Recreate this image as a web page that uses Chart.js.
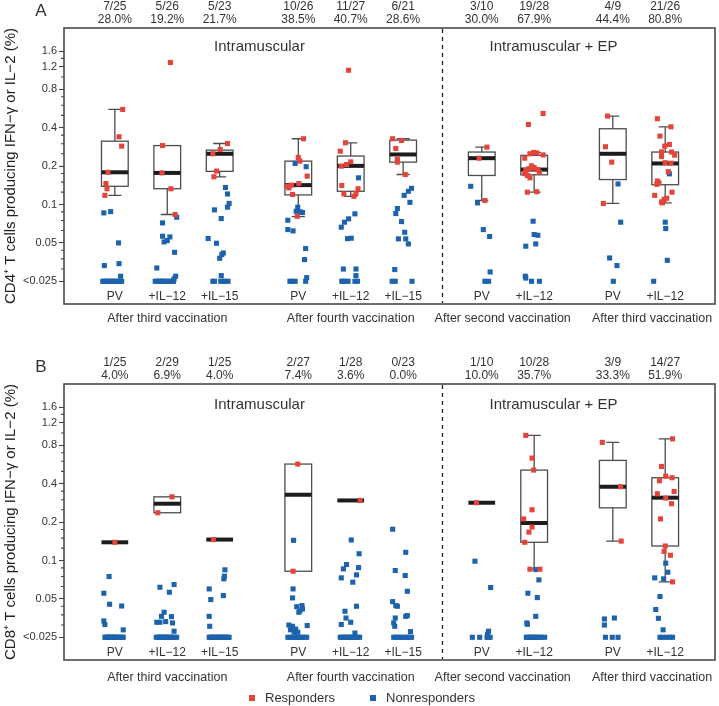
<!DOCTYPE html>
<html>
<head>
<meta charset="utf-8">
<script src="https://cdn.jsdelivr.net/npm/chart.js@4.4.0/dist/chart.umd.min.js"></script>
<style>
  html, body { margin: 0; padding: 0; background: #fff; }
  #wrap { position: relative; width: 719px; height: 706px; }
  .panel { position: absolute; left: 0; width: 719px; }
</style>
</head>
<body>
<div id="wrap">
  <div class="panel" style="top:0;height:355px"><canvas id="chartA"></canvas></div>
  <div class="panel" style="top:356px;height:350px"><canvas id="chartB"></canvas></div>
</div>
<script>
// category positions on the x axis (units), labels
const groupX = [1, 2, 3, 4.5, 5.5, 6.5, 8, 9, 10.5, 11.5];
const treatments = ['PV', '+IL\u221212', '+IL\u221215', 'PV', '+IL\u221212', '+IL\u221215', 'PV', '+IL\u221212', 'PV', '+IL\u221212'];
const periods = ['After third vaccination', 'After fourth vaccination', 'After second vaccination', 'After third vaccination'];
const periodX = [2, 5.5, 8.4, 11.25];
const routes = ['Intramuscular', 'Intramuscular + EP'];
const routeX = [3.76, 9.37];
const dividerX = 7.25;

const yTickValues = [0.025, 0.05, 0.1, 0.2, 0.4, 0.8, 1.2, 1.6];
const yTickLabels = ['<0.025', '0.05', '0.1', '0.2', '0.4', '0.8', '1.2', '1.6'];
const yMinorTicks = [0.03125, 0.0375, 0.04375, 0.0625, 0.075, 0.0875, 0.125, 0.15, 0.175,
  0.25, 0.3, 0.35, 0.5, 0.6, 0.7, 1.0, 1.4];

// panel A: CD4+
const countsA = ['7/25', '5/26', '5/23', '10/26', '11/27', '6/21', '3/10', '19/28', '4/9', '21/26'];
const percentA = ['28.0%', '19.2%', '21.7%', '38.5%', '40.7%', '28.6%', '30.0%', '67.9%', '44.4%', '80.8%'];
// [lo whisker, q1, median, q3, hi whisker] of responders
const boxA = [
  [0.118, 0.139, 0.179, 0.314, 0.557],
  [0.0835, 0.133, 0.177, 0.29, 0.29],
  [0.165, 0.182, 0.25, 0.267, 0.301],
  [0.0805, 0.119, 0.142, 0.219, 0.328],
  [0.116, 0.127, 0.201, 0.24, 0.305],
  [0.172, 0.215, 0.247, 0.32, 0.328],
  [0.1075, 0.169, 0.231, 0.258, 0.282],
  [0.125, 0.171, 0.188, 0.243, 0.256],
  [0.102, 0.157, 0.25, 0.393, 0.494],
  [0.103, 0.143, 0.21, 0.258, 0.407]
];
// points: [jitter, value]
const respA = [
  [[0.15,0.557],[0.08,0.34],[0.13,0.287],[-0.13,0.179],[-0.17,0.146],[-0.15,0.133],[-0.19,0.118]],
  [[0.06,1.3],[-0.09,0.29],[-0.1,0.177],[0.07,0.133],[0.15,0.0835]],
  [[0.15,0.301],[0.01,0.27],[-0.13,0.25],[-0.06,0.183],[-0.11,0.165]],
  [[0.1,0.328],[0,0.234],[0.03,0.219],[0.17,0.167],[-0.21,0.139],[-0.13,0.142],[0.01,0.146],[-0.18,0.135],[-0.11,0.12],[-0.02,0.0809]],
  [[-0.04,1.13],[-0.1,0.305],[-0.2,0.262],[-0.18,0.2],[-0.08,0.206],[0,0.216],[-0.17,0.141],[-0.13,0.121],[0.06,0.116],[0.1,0.122],[0.14,0.133]],
  [[-0.2,0.328],[-0.03,0.318],[-0.14,0.275],[-0.11,0.226],[-0.11,0.215],[0.04,0.172]],
  [[0.1,0.282],[-0.05,0.231],[0.06,0.1075]],
  [[0.17,0.518],[-0.11,0.425],[-0.01,0.256],[-0.08,0.25],[0.17,0.245],[-0.18,0.231],[0.05,0.254],[-0.05,0.201],[0,0.195],[0.07,0.188],
   [-0.16,0.186],[-0.1,0.191],[0.1,0.179],[-0.18,0.175],[-0.13,0.169],[-0.08,0.162],[-0.13,0.125],[0.05,0.126],[-0.03,0.193]],
  [[-0.1,0.494],[-0.14,0.284],[-0.02,0.215],[-0.18,0.102]],
  [[-0.15,0.471],[0.11,0.407],[-0.1,0.344],[-0.01,0.287],[0.08,0.296],[-0.07,0.259],[0.12,0.258],[0.18,0.244],[-0.07,0.238],[0.11,0.211],
   [0.06,0.181],[-0.15,0.153],[-0.16,0.144],[-0.12,0.148],[0.13,0.125],[-0.2,0.118],[0.03,0.112],[-0.02,0.11],[-0.07,0.105],[-0.05,0.103],[0,0.213]]
];
const nonA = [
  [[-0.21,0.086],[-0.08,0.088],[0.07,0.05],[-0.2,0.0332],[0.08,0.0344],[0.11,0.0274],
   [-0.23,0.025],[-0.2,0.025],[-0.17,0.025],[-0.14,0.025],[-0.11,0.025],[-0.08,0.025],[-0.05,0.025],[-0.02,0.025],[0.01,0.025],[0.05,0.025],[0.09,0.025],[0.13,0.025]],
  [[0.18,0.0795],[-0.09,0.0718],[-0.09,0.0564],[0.05,0.0557],[-0.06,0.0509],[0,0.0522],[0.14,0.0422],[-0.2,0.0318],[0.16,0.0274],[0.13,0.0261],
   [-0.23,0.025],[-0.2,0.025],[-0.17,0.025],[-0.14,0.025],[-0.11,0.025],[-0.08,0.025],[-0.04,0.025],[0,0.025],[0.04,0.025],[0.08,0.025],[0.12,0.025]],
  [[0.11,0.136],[0.15,0.121],[0.18,0.102],[0.15,0.0953],[-0.1,0.0908],[0.03,0.0776],[-0.22,0.0541],[-0.06,0.0497],[0.07,0.0417],[0.04,0.0405],[0,0.0379],[0.03,0.0277],
   [-0.13,0.025],[-0.1,0.025],[0.02,0.025],[0.06,0.025],[0.1,0.025],[0.16,0.025]],
  [[-0.06,0.21],[0.15,0.198],[-0.01,0.0953],[-0.04,0.0886],[0.04,0.0876],[0.08,0.0865],[-0.2,0.0753],[-0.2,0.0636],[-0.1,0.0621],[0.14,0.0452],[0.12,0.037],[0.16,0.0267],
   [-0.16,0.025],[-0.12,0.025],[-0.06,0.025],[0.14,0.025]],
  [[0.15,0.162],[0.08,0.0845],[-0.04,0.0772],[-0.12,0.0727],[-0.18,0.0664],[0.01,0.0544],[-0.06,0.054],[-0.14,0.0312],[0.1,0.0312],[0.1,0.0277],
   [-0.17,0.025],[-0.14,0.025],[-0.1,0.025],[-0.05,0.025],[0.08,0.025],[0.13,0.025]],
  [[0.16,0.134],[0.1,0.127],[0.02,0.118],[0.13,0.104],[-0.11,0.093],[-0.14,0.085],[-0.03,0.0735],[0.03,0.0606],[-0.09,0.0538],[0.05,0.0538],[0.1,0.0491],[-0.16,0.0309],
   [-0.21,0.025],[-0.15,0.025],[0.17,0.025]],
  [[-0.21,0.139],[-0.08,0.103],[0.03,0.0636],[0.15,0.0561],[0.16,0.0296],[0.06,0.025],[0.13,0.025]],
  [[-0.02,0.074],[0,0.0582],[0.07,0.0574],[0.03,0.0491],[-0.16,0.0471],[-0.17,0.0274],[-0.16,0.0265],[-0.05,0.025],[0.1,0.025]],
  [[0.1,0.145],[0.15,0.0727],[-0.06,0.0381],[0.08,0.0332],[0.01,0.025]],
  [[0.08,0.174],[0,0.0727],[0.01,0.0648],[0.04,0.0365],[-0.22,0.025]]
];

// panel B: CD8+
const countsB = ['1/25', '2/29', '1/25', '2/27', '1/28', '0/23', '1/10', '10/28', '3/9', '14/27'];
const percentB = ['4.0%', '6.9%', '4.0%', '7.4%', '3.6%', '0.0%', '10.0%', '35.7%', '33.3%', '51.9%'];
const boxB = [
  [0.139, 0.139, 0.139, 0.139, 0.139],
  [0.237, 0.237, 0.279, 0.316, 0.316],
  [0.146, 0.146, 0.146, 0.146, 0.146],
  [0.0824, 0.0824, 0.328, 0.571, 0.571],
  [0.296, 0.296, 0.296, 0.296, 0.296],
  null,
  [0.284, 0.284, 0.284, 0.284, 0.284],
  [0.0855, 0.139, 0.197, 0.512, 0.958],
  [0.142, 0.259, 0.379, 0.61, 0.845],
  [0.068, 0.13, 0.311, 0.446, 0.9]
];
const respB = [
  [[0,0.139]],
  [[0.09,0.316],[-0.18,0.237]],
  [[-0.12,0.146]],
  [[-0.01,0.571],[-0.1,0.0824]],
  [[0.18,0.296]],
  [],
  [[-0.1,0.284]],
  [[-0.16,0.958],[-0.04,0.636],[-0.01,0.512],[-0.04,0.25],[-0.2,0.212],[-0.04,0.183],[-0.1,0.167],[-0.18,0.139],[-0.08,0.0855],[0.11,0.0855]],
  [[-0.2,0.845],[0.15,0.379],[0.16,0.142]],
  [[0.14,0.9],[-0.07,0.547],[0.01,0.459],[0.13,0.446],[-0.11,0.422],[0.17,0.348],[-0.15,0.334],[0.01,0.309],[0.12,0.279],[-0.09,0.212],
   [0,0.13],[-0.02,0.118],[0.1,0.11],[0.14,0.068]]
];
const nonB = [
  [[-0.11,0.0749],[-0.21,0.0554],[-0.1,0.0454],[0.13,0.044],[-0.21,0.0336],[-0.19,0.0315],[0.16,0.0286],
   [-0.19,0.025],[-0.17,0.025],[-0.15,0.025],[-0.13,0.025],[-0.11,0.025],[-0.09,0.025],[-0.07,0.025],[-0.05,0.025],[-0.03,0.025],
   [-0.01,0.025],[0.01,0.025],[0.03,0.025],[0.05,0.025],[0.08,0.025],[0.11,0.025],[0.14,0.025],[0.16,0.025]],
  [[0.13,0.0648],[-0.14,0.0617],[0.04,0.0564],[-0.06,0.0393],[-0.11,0.0365],[0.08,0.0363],[-0.2,0.0328],[-0.14,0.0328],[-0.03,0.0332],[0.1,0.0324],[0.13,0.0279],
   [-0.21,0.025],[-0.18,0.025],[-0.16,0.025],[-0.14,0.025],[-0.12,0.025],[-0.1,0.025],[-0.08,0.025],[-0.05,0.025],
   [-0.03,0.025],[-0.01,0.025],[0.02,0.025],[0.05,0.025],[0.08,0.025],[0.11,0.025],[0.14,0.025],[0.18,0.025]],
  [[0.1,0.0845],[0.09,0.0753],[0.08,0.0718],[-0.2,0.0599],[0.07,0.0531],[-0.17,0.0494],[-0.2,0.0365],[-0.19,0.0305],
   [-0.2,0.025],[-0.17,0.025],[-0.15,0.025],[-0.12,0.025],[-0.1,0.025],[-0.07,0.025],[-0.04,0.025],[-0.02,0.025],
   [0.01,0.025],[0.03,0.025],[0.06,0.025],[0.08,0.025],[0.1,0.025],[0.12,0.025],[0.15,0.025],[0.18,0.025]],
  [[-0.09,0.144],[-0.1,0.0599],[-0.11,0.0509],[0.07,0.0443],[-0.03,0.0434],[0.08,0.0417],[0.01,0.0393],[0.03,0.0403],[-0.18,0.0312],[-0.11,0.0305],
   [0.17,0.0309],[-0.05,0.029],[-0.15,0.0286],[-0.08,0.0274],[-0.01,0.0274],
   [-0.2,0.025],[-0.16,0.025],[-0.12,0.025],[-0.08,0.025],[-0.04,0.025],[0,0.025],[0.04,0.025],[0.08,0.025],[0.12,0.025],[0.16,0.025]],
  [[0.01,0.145],[0.16,0.113],[-0.08,0.093],[-0.14,0.086],[0.15,0.088],[-0.18,0.0731],[0.11,0.0772],[0.04,0.0676],[0.11,0.0438],[-0.11,0.04],
   [-0.09,0.0354],[-0.18,0.0315],[0,0.0328],[0.08,0.027],
   [-0.2,0.025],[-0.17,0.025],[-0.14,0.025],[-0.11,0.025],[-0.08,0.025],[-0.05,0.025],[-0.02,0.025],[0.01,0.025],[0.04,0.025],[0.07,0.025],[0.1,0.025],[0.13,0.025],[0.17,0.025]],
  [[-0.2,0.176],[0.05,0.116],[-0.15,0.0835],[0.04,0.0763],[0.08,0.0574],[-0.2,0.0476],[-0.14,0.0443],[-0.11,0.0438],[-0.15,0.0354],[0.08,0.037],
   [0.05,0.0365],[-0.18,0.0324],[-0.16,0.0305],[0.14,0.0277],
   [-0.18,0.025],[-0.14,0.025],[-0.1,0.025],[-0.06,0.025],[-0.02,0.025],[0.03,0.025],[0.08,0.025],[0.12,0.025],[0.16,0.025]],
  [[-0.13,0.0988],[0.17,0.0614],[0.13,0.0279],[0.11,0.0265],[-0.18,0.025],[-0.04,0.025],[0.1,0.025],[0.13,0.025],[0.16,0.025]],
  [[0.03,0.085],[0.09,0.0705],[-0.12,0.0554],[0.06,0.0512],[0.03,0.0365],[-0.14,0.0324],[-0.13,0.0316],
   [-0.15,0.025],[-0.12,0.025],[-0.09,0.025],[-0.06,0.025],[-0.03,0.025],[0,0.025],[0.03,0.025],[0.07,0.025],[0.1,0.025],[0.14,0.025],[0.2,0.025]],
  [[-0.16,0.0348],[-0.16,0.0312],[0.03,0.0354],[-0.14,0.025],[-0.01,0.025],[0.1,0.025]],
  [[0.01,0.0953],[0.05,0.081],[-0.2,0.0731],[-0.03,0.0718],[-0.1,0.0522],[-0.18,0.0413],[-0.13,0.0352],[-0.04,0.0286],
   [-0.1,0.025],[-0.05,0.025],[0.02,0.025],[0.08,0.025],[0.14,0.025]]
];

const FONT = "'Liberation Sans', Arial, sans-serif";
const RED = '#e5443a';
const BLUE = '#1d62ad';
Chart.defaults.font.family = FONT;

function toPoints(groups) {
  const pts = [];
  groups.forEach((g, i) => g.forEach(p => pts.push({ x: groupX[i] + p[0], y: p[1] })));
  return pts;
}

function makePanel(id, cfg) {
  const boxes = {
    id: 'boxes',
    beforeDatasetsDraw(chart) {
      const { ctx, scales: { x, y } } = chart;
      ctx.save();
      cfg.boxes.forEach((b, i) => {
        if (!b) return;
        const [lo, q1, med, q3, hi] = b;
        const cx = groupX[i];
        const xl = x.getPixelForValue(cx - 0.255), xr = x.getPixelForValue(cx + 0.255);
        const xm = x.getPixelForValue(cx);
        const cl = x.getPixelForValue(cx - 0.125), cr = x.getPixelForValue(cx + 0.125);
        ctx.strokeStyle = '#4d4d4d';
        ctx.lineWidth = 1.3;
        ctx.beginPath();
        if (hi > q3) {
          ctx.moveTo(xm, y.getPixelForValue(q3)); ctx.lineTo(xm, y.getPixelForValue(hi));
          ctx.moveTo(cl, y.getPixelForValue(hi)); ctx.lineTo(cr, y.getPixelForValue(hi));
        }
        if (lo < q1) {
          ctx.moveTo(xm, y.getPixelForValue(q1)); ctx.lineTo(xm, y.getPixelForValue(lo));
          ctx.moveTo(cl, y.getPixelForValue(lo)); ctx.lineTo(cr, y.getPixelForValue(lo));
        }
        ctx.stroke();
        if (q3 > q1) {
          const yt = y.getPixelForValue(q3), yb = y.getPixelForValue(q1);
          ctx.strokeRect(xl, yt, xr - xl, yb - yt);
        }
        ctx.strokeStyle = '#1c1c1c';
        ctx.lineWidth = 4;
        ctx.beginPath();
        ctx.moveTo(xl, y.getPixelForValue(med));
        ctx.lineTo(xr, y.getPixelForValue(med));
        ctx.stroke();
      });
      ctx.restore();
    }
  };

  const deco = {
    id: 'deco',
    afterDraw(chart) {
      const { ctx, chartArea: a, scales: { x, y } } = chart;
      ctx.save();
      // frame
      ctx.strokeStyle = '#4a4a4a';
      ctx.lineWidth = 1.6;
      ctx.strokeRect(a.left, a.top, a.right - a.left, a.bottom - a.top);
      // minor ticks
      ctx.lineWidth = 1.1;
      ctx.strokeStyle = '#444';
      ctx.beginPath();
      yMinorTicks.forEach(v => {
        const py = y.getPixelForValue(v);
        ctx.moveTo(a.left - 3, py); ctx.lineTo(a.left, py);
      });
      ctx.stroke();
      // divider
      ctx.setLineDash([4, 4]);
      ctx.lineWidth = 1.3;
      ctx.strokeStyle = '#222';
      const px = Math.round(x.getPixelForValue(dividerX)) + 0.5;
      ctx.beginPath(); ctx.moveTo(px, a.top + 1); ctx.lineTo(px, a.bottom - 1); ctx.stroke();
      ctx.setLineDash([]);

      ctx.fillStyle = '#333';
      ctx.textAlign = 'center';
      ctx.textBaseline = 'middle';
      ctx.font = '12px ' + FONT;
      groupX.forEach((gx, i) => {
        const gpx = x.getPixelForValue(gx);
        ctx.fillText(cfg.counts[i], gpx, 6.5);
        ctx.fillText(cfg.pcts[i], gpx, 20);
        ctx.fillText(treatments[i], gpx, a.bottom - 7);
      });
      ctx.font = '12.5px ' + FONT;
      periods.forEach((t, i) => ctx.fillText(t, x.getPixelForValue(periodX[i]), a.bottom + cfg.periodDy));
      ctx.font = '15px ' + FONT;
      routes.forEach((t, i) => ctx.fillText(t, x.getPixelForValue(routeX[i]), cfg.routeY));
      ctx.font = '17px ' + FONT;
      ctx.fillText(cfg.letter, 41, 11);
      // y title
      ctx.save();
      ctx.translate(11, (a.top + a.bottom) / 2);
      ctx.rotate(-Math.PI / 2);
      ctx.fillStyle = '#222';
      ctx.font = '15px ' + FONT;
      ctx.fillText(cfg.yTitle, 0, 0);
      ctx.restore();
      // legend
      if (cfg.legend) {
        ctx.font = '13px ' + FONT;
        ctx.textAlign = 'left';
        ctx.fillStyle = RED; ctx.fillRect(249, cfg.legendY - 3, 6, 6);
        ctx.fillStyle = BLUE; ctx.fillRect(370, cfg.legendY - 3, 6, 6);
        ctx.fillStyle = '#333';
        ctx.fillText('Responders', 265, cfg.legendY);
        ctx.fillText('Nonresponders', 386, cfg.legendY);
      }
      ctx.restore();
    }
  };

  return new Chart(document.getElementById(id), {
    type: 'scatter',
    data: {
      datasets: [
        { label: 'Responders', data: toPoints(cfg.resp), backgroundColor: RED, pointStyle: 'rect', pointRadius: 3.6, borderWidth: 0 },
        { label: 'Nonresponders', data: toPoints(cfg.non), backgroundColor: BLUE, pointStyle: 'rect', pointRadius: 3.6, borderWidth: 0 }
      ]
    },
    options: {
      responsive: true,
      maintainAspectRatio: false,
      animation: false,
      layout: { padding: { left: 0, right: 2, top: 28, bottom: cfg.padBottom } },
      plugins: { legend: { display: false }, tooltip: { enabled: false } },
      scales: {
        x: { type: 'linear', display: false, min: 0.03, max: 12.45 },
        y: {
          type: 'logarithmic',
          min: 0.01659,
          max: 2.424,
          afterFit(s) { s.width = 64; },
          afterBuildTicks(s) { s.ticks = yTickValues.map(v => ({ value: v })); },
          ticks: {
            autoSkip: false,
            padding: 2,
            color: '#333',
            font: { size: 11 },
            callback: (v, i) => yTickLabels[i]
          },
          grid: { display: true, drawOnChartArea: false, drawTicks: true, tickLength: 5, tickColor: '#444', tickWidth: 1.1 },
          border: { display: false }
        }
      }
    },
    plugins: [boxes, deco]
  });
}

makePanel('chartA', {
  resp: respA, non: nonA, boxes: boxA, counts: countsA, pcts: percentA,
  letter: 'A', yTitle: 'CD4\u207A T cells producing IFN\u2212\u03B3 or IL\u22122 (%)',
  padBottom: 51, periodDy: 14.5, routeY: 47, legend: false
});
makePanel('chartB', {
  resp: respB, non: nonB, boxes: boxB, counts: countsB, pcts: percentB,
  letter: 'B', yTitle: 'CD8\u207A T cells producing IFN\u2212\u03B3 or IL\u22122 (%)',
  padBottom: 46, periodDy: 18, routeY: 49, legend: true, legendY: 342
});
</script>
</body>
</html>
